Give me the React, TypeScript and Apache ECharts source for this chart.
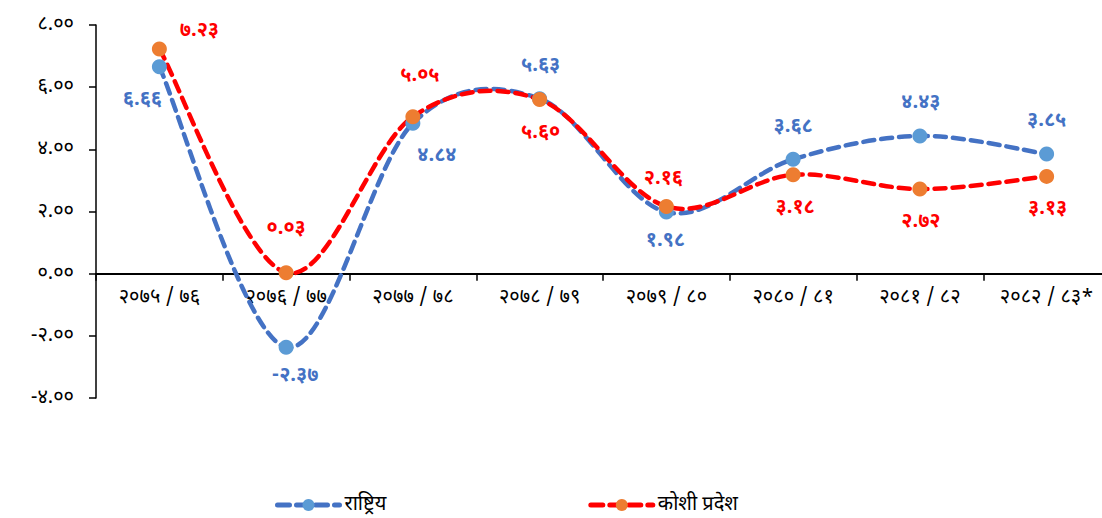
import React, { useEffect, useRef } from "react";
import * as echarts from "echarts";

const categories = [
  "२०७५/७६",
  "२०७६/७७",
  "२०७७/७८",
  "२०७८/७९",
  "२०७९/८०",
  "२०८०/८१",
  "२०८१/८२",
  "२०८२/८३*",
];
const nationalValues = [6.66, -2.37, 4.84, 5.63, 1.98, 3.68, 4.43, 3.85];
const koshiValues = [7.23, 0.03, 5.05, 5.6, 2.16, 3.18, 2.72, 3.13];
const seriesNames = ["राष्ट्रिय", "कोशी प्रदेश"];
const yMin = -4;
const yMax = 8;
const yStep = 2;

const nationalLabelOffsets = [
  [-17, 33], [9, 29], [24, 33], [1, -33], [-1, 29], [0, -32], [1, -33], [0, -33],
];
const koshiLabelOffsets = [
  [40, -18], [0, -44], [7, -41], [1, 33], [-3, -28], [2, 33], [1, 33], [1, 33],
];

const DIGITS = "०१२३४५६७८९";
const toNep = (s: string) => s.replace(/[0-9]/g, (d) => DIGITS[Number(d)]);
const fmt = (v: number) => toNep(v.toFixed(2));

const FONT = "'Noto Sans Devanagari', 'Lohit Devanagari', 'Noto Sans', 'DejaVu Sans', sans-serif";

const GRID_TOP = 25;
const GRID_BOTTOM = 120;
const W = 1102;
const H = 518;
const INNER_W = 1114;

const BLUE_LINE = "#4472C4";
const BLUE_MARK = "#5B9BD5";
const RED_LINE = "#FF0000";
const ORANGE_MARK = "#ED7D31";
const DASH = [11, 7];

// Catmull-Rom style smooth path (like spreadsheet "smoothed line")
function smoothPath(pts: number[][]): string {
  if (!pts.length) return "";
  let d = `M${pts[0][0]},${pts[0][1]}`;
  for (let i = 0; i < pts.length - 1; i++) {
    const p0 = pts[i - 1] || pts[i];
    const p1 = pts[i];
    const p2 = pts[i + 1];
    const p3 = pts[i + 2] || p2;
    const c1x = p1[0] + (p2[0] - p0[0]) / 6;
    const c1y = p1[1] + (p2[1] - p0[1]) / 6;
    const c2x = p2[0] - (p3[0] - p1[0]) / 6;
    const c2y = p2[1] - (p3[1] - p1[1]) / 6;
    d += ` C${c1x},${c1y} ${c2x},${c2y} ${p2[0]},${p2[1]}`;
  }
  return d;
}

export default function App() {
  const ref = useRef<HTMLDivElement>(null);
  useEffect(() => {
    if (!ref.current) return;
    const chart = echarts.init(ref.current, undefined, { renderer: "svg" });
    const gridH = H - GRID_TOP - GRID_BOTTOM;
    const zeroFromBottom = (gridH * (0 - yMin)) / (yMax - yMin);

    const curve = (values: number[], color: string, z: number) => ({
      type: "custom",
      z,
      silent: true,
      data: values.map((v, i) => [i, v]),
      renderItem: (params: any, api: any) => {
        if (params.dataIndex !== 0) return null;
        const pts = values.map((v, i) => api.coord([i, v]));
        return {
          type: "path",
          shape: { pathData: smoothPath(pts) },
          style: {
            fill: "none",
            stroke: color,
            lineWidth: 4.5,
            lineDash: DASH,
            lineCap: "round",
          },
        };
      },
    });

    const marks = (
      name: string,
      values: number[],
      offsets: number[][],
      lineColor: string,
      markColor: string,
      labelColor: string
    ) => ({
      name,
      type: "line",
      z: 5,
      symbol: "circle",
      symbolSize: 15,
      lineStyle: { color: lineColor, width: 0, opacity: 0 },
      itemStyle: { color: markColor },
      data: values.map((v, i) => ({
        value: v,
        label: {
          show: true,
          position: "inside",
          offset: offsets[i],
          formatter: () => fmt(v),
          color: labelColor,
          fontSize: 20,
          fontWeight: "bold",
          fontFamily: FONT,
        },
      })),
    });

    chart.setOption({
      animation: false,
      grid: { left: 96, right: INNER_W - 1110, top: GRID_TOP, bottom: GRID_BOTTOM, containLabel: false },
      legend: {
        left: 270,
        top: 490,
        itemWidth: 62,
        itemHeight: 15,
        itemGap: 202,
        textStyle: { fontSize: 20, color: "#000", fontFamily: FONT },
        data: [
          {
            name: seriesNames[0],
            lineStyle: { color: BLUE_LINE, width: 5, type: [12, 7], opacity: 1, cap: "round" },
            itemStyle: { color: BLUE_MARK },
          },
          {
            name: seriesNames[1],
            lineStyle: { color: RED_LINE, width: 5, type: [12, 7], opacity: 1, cap: "round" },
            itemStyle: { color: ORANGE_MARK },
          },
        ],
      },
      xAxis: {
        type: "category",
        data: categories,
        boundaryGap: true,
        offset: -zeroFromBottom,
        axisLine: { onZero: false, lineStyle: { color: "#000", width: 2 } },
        axisTick: { show: true, length: 7, lineStyle: { color: "#000", width: 1.5 } },
        axisLabel: {
          color: "#000",
          fontSize: 20,
          margin: 14,
          interval: 0,
          fontFamily: FONT,
          formatter: (s: string) => s.replace("/", " / "),
        },
      },
      yAxis: {
        type: "value",
        min: yMin,
        max: yMax,
        interval: yStep,
        splitLine: { show: false },
        axisLine: { show: true, lineStyle: { color: "#000", width: 1.5 } },
        axisTick: { show: true, length: 7, lineStyle: { color: "#000", width: 1.5 } },
        axisLabel: {
          color: "#000",
          fontSize: 20,
          margin: 22,
          fontFamily: FONT,
          formatter: (v: number) => fmt(v),
        },
      },
      series: [
        curve(nationalValues, BLUE_LINE, 2),
        curve(koshiValues, RED_LINE, 3),
        marks(seriesNames[0], nationalValues, nationalLabelOffsets, BLUE_LINE, BLUE_MARK, BLUE_LINE),
        marks(seriesNames[1], koshiValues, koshiLabelOffsets, RED_LINE, ORANGE_MARK, RED_LINE),
      ],
    });
    return () => chart.dispose();
  }, []);
  return (
    <div
      style={{
        position: "absolute",
        left: 0,
        top: 0,
        width: W,
        height: H,
        overflow: "hidden",
        background: "#fff",
      }}
    >
      <div ref={ref} style={{ width: INNER_W, height: H }} />
    </div>
  );
}
